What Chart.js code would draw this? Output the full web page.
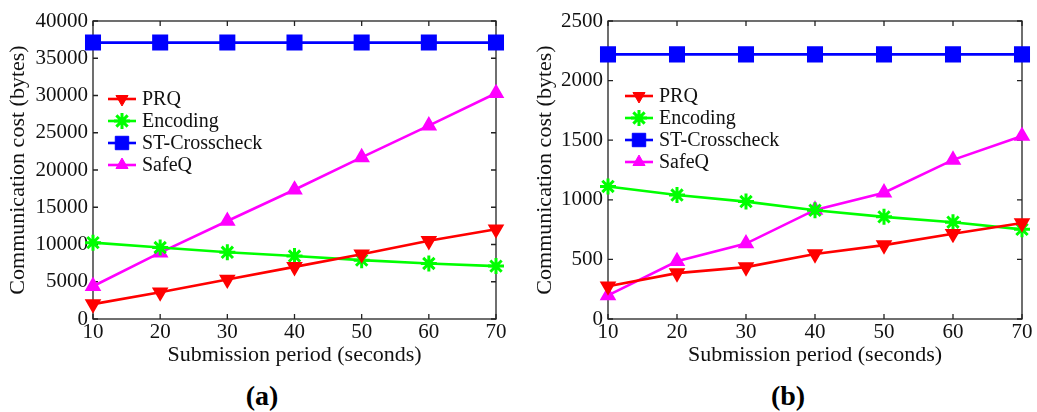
<!DOCTYPE html>
<html>
<head>
<meta charset="utf-8">
<script src="https://cdn.jsdelivr.net/npm/chart.js@4.4.0/dist/chart.umd.min.js"></script>
<style>
  body { margin: 0; background: #fff; width: 1037px; height: 412px; position: relative; overflow: hidden; font-family: "Liberation Serif", "Times New Roman", serif; }
  .box { position: absolute; top: 0; }
  .cap { position: absolute; top: 380px; font-weight: bold; font-size: 28px; transform: translateX(-50%); }
</style>
</head>
<body>
<div class="box" style="left:0"><canvas id="chartA" width="520" height="368"></canvas></div>
<div class="box" style="left:520px"><canvas id="chartB" width="517" height="368"></canvas></div>
<div class="cap" style="left:262px">(a)</div>
<div class="cap" style="left:788px">(b)</div>
<script>
const periods = [10, 20, 30, 40, 50, 60, 70];

// (a)
const prqA = [2000, 3600, 5300, 7000, 8700, 10500, 12050];
const encodingA = [10250, 9600, 8950, 8450, 7900, 7450, 7100];
const crosscheckA = [37100, 37100, 37100, 37100, 37100, 37100, 37100];
const safeqA = [4400, 8900, 13150, 17350, 21700, 25950, 30300];
const ticksA = [0, 5000, 10000, 15000, 20000, 25000, 30000, 35000, 40000];

// (b)
const prqB = [275, 385, 435, 545, 620, 715, 805];
const encodingB = [1112, 1040, 985, 912, 857, 812, 752];
const crosscheckB = [2220, 2220, 2220, 2220, 2220, 2220, 2220];
const safeqB = [198, 484, 633, 915, 1060, 1335, 1535];
const ticksB = [0, 500, 1000, 1500, 2000, 2500];

const names = ['PRQ', 'Encoding', 'ST-Crosscheck', 'SafeQ'];
const serif = '"Liberation Serif", "Times New Roman", serif';

function series(prq, enc, cross, safe) {
  return [
    { label: names[0], data: prq, borderColor: '#ff0000', backgroundColor: '#ff0000',
      pointStyle: 'triangle', rotation: 180, pointRadius: 7 },
    { label: names[1], data: enc, borderColor: '#00ff00', backgroundColor: '#00ff00',
      pointStyle: 'star', pointRadius: 8, pointBorderWidth: 3 },
    { label: names[2], data: cross, borderColor: '#0000ff', backgroundColor: '#0000ff',
      pointStyle: 'rect', pointRadius: 9.5 },
    { label: names[3], data: safe, borderColor: '#ff00ff', backgroundColor: '#ff00ff',
      pointStyle: 'triangle', pointRadius: 7 }
  ].map(d => Object.assign({ borderWidth: 2.6, tension: 0, pointHoverRadius: d.pointRadius }, d));
}

// frame with inward ticks, like the original figure
const frameTicks = {
  id: 'frameTicks',
  beforeDatasetsDraw(chart) {
    const { ctx, chartArea: a, scales: { x, y } } = chart;
    ctx.save();
    ctx.strokeStyle = '#222';
    ctx.lineWidth = 1.3;
    ctx.strokeRect(a.left, a.top, a.right - a.left, a.bottom - a.top);
    ctx.beginPath();
    x.ticks.forEach((t, i) => {
      const px = x.getPixelForTick(i);
      ctx.moveTo(px, a.bottom); ctx.lineTo(px, a.bottom - 5);
      ctx.moveTo(px, a.top); ctx.lineTo(px, a.top + 5);
    });
    y.ticks.forEach(t => {
      const py = y.getPixelForValue(t.value);
      ctx.moveTo(a.left, py); ctx.lineTo(a.left + 5, py);
      ctx.moveTo(a.right, py); ctx.lineTo(a.right - 5, py);
    });
    ctx.stroke();
    ctx.restore();
  }
};

// legend drawn inside the plot area
const innerLegend = {
  id: 'innerLegend',
  afterDatasetsDraw(chart, args, opts) {
    const { ctx, chartArea: a } = chart;
    ctx.save();
    ctx.font = '20px ' + serif;
    ctx.textBaseline = 'middle';
    chart.data.datasets.forEach((ds, i) => {
      const x0 = a.left + opts.x, y0 = a.top + opts.y + i * opts.gap;
      ctx.strokeStyle = ds.borderColor;
      ctx.lineWidth = ds.borderWidth;
      ctx.beginPath(); ctx.moveTo(x0, y0); ctx.lineTo(x0 + 28, y0); ctx.stroke();
      ctx.fillStyle = ds.backgroundColor;
      ctx.lineWidth = ds.pointBorderWidth || 1;
      Chart.helpers.drawPoint(ctx, { pointStyle: ds.pointStyle, rotation: ds.rotation || 0, radius: ds.pointRadius, borderWidth: ds.pointBorderWidth || 1 }, x0 + 14, y0);
      ctx.fillStyle = '#111';
      ctx.fillText(ds.label, x0 + 34, y0 + 1);
    });
    ctx.restore();
  }
};

function makeChart(id, datasets, yMax, yStep, pad, legendPos) {
  return new Chart(document.getElementById(id), {
    type: 'line',
    data: { labels: periods, datasets: datasets },
    plugins: [frameTicks, innerLegend],
    options: {
      responsive: false,
      animation: false,
      layout: { padding: { top: 21, right: pad.right, left: pad.left, bottom: 0 } },
      plugins: {
        legend: { display: false },
        tooltip: { enabled: false },
        innerLegend: legendPos
      },
      scales: {
        x: {
          offset: false,
          grid: { display: false, drawTicks: false },
          border: { display: false },
          ticks: { color: '#111', font: { family: serif, size: 21 }, padding: 1, maxRotation: 0 },
          title: { display: true, text: 'Submission period (seconds)', color: '#111', font: { family: serif, size: 22 }, padding: 0 },
          afterFit(s) { s.height = 49; }
        },
        y: {
          min: 0, max: yMax,
          grid: { display: false, drawTicks: false },
          border: { display: false },
          ticks: { stepSize: yStep, color: '#111', font: { family: serif, size: 21 }, padding: 5, callback: v => String(v) },
          title: { display: true, text: 'Communication cost (bytes)', color: '#111', font: { family: serif, size: 22 }, padding: 0 },
          afterFit(s) { s.width = pad.axis; }
        }
      }
    }
  });
}

makeChart('chartA', series(prqA, encodingA, crosscheckA, safeqA), ticksA[ticksA.length - 1], ticksA[1],
  { left: 5, right: 24, axis: 88 }, { x: 15, y: 78, gap: 22 });
makeChart('chartB', series(prqB, encodingB, crosscheckB, safeqB), ticksB[ticksB.length - 1], ticksB[1],
  { left: 12, right: 15, axis: 76 }, { x: 17, y: 75, gap: 22 });
</script>
</body>
</html>
